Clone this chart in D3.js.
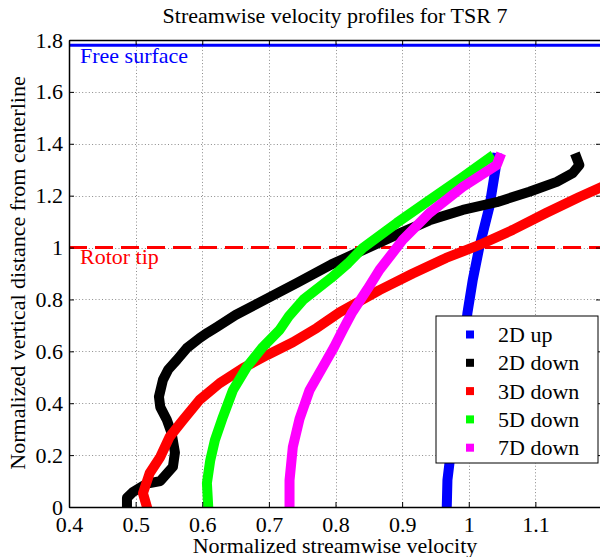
<!DOCTYPE html>
<html>
<head>
<meta charset="utf-8">
<script src="https://cdn.jsdelivr.net/npm/d3@7"></script>
<style>
  body { margin: 0; background: #fff; }
  svg { font-family: "Liberation Serif", "DejaVu Serif", serif; }
</style>
</head>
<body>
<svg id="chart" width="600" height="557"></svg>
<script>
// profile data: [normalized streamwise velocity, normalized vertical distance]
var up2D = [[0.967,0],[0.968,0.104],[0.974,0.232],[0.985,0.45],[0.998,0.748],[1.006,0.875],
  [1.016,1.003],[1.031,1.157],[1.040,1.30],[1.042,1.345]];
var down2D = [[0.487,0],[0.487,0.035],[0.496,0.058],[0.517,0.09],[0.537,0.10],[0.556,0.155],
  [0.559,0.21],[0.554,0.285],[0.547,0.335],[0.537,0.385],[0.535,0.425],[0.541,0.49],
  [0.549,0.53],[0.562,0.567],[0.577,0.613],[0.596,0.651],[0.608,0.672],[0.622,0.694],
  [0.650,0.74],[0.697,0.803],[0.743,0.865],[0.794,0.935],[0.841,0.99],[0.892,1.05],
  [0.941,1.105],[0.991,1.145],[1.042,1.175],[1.091,1.215],[1.132,1.253],[1.156,1.287],
  [1.166,1.318],[1.162,1.345]];
var down3D = [[0.517,0],[0.511,0.053],[0.521,0.13],[0.537,0.193],[0.551,0.27],[0.571,0.335],
  [0.596,0.413],[0.626,0.477],[0.661,0.535],[0.697,0.585],[0.736,0.635],[0.772,0.69],
  [0.806,0.75],[0.866,0.836],[0.916,0.9],[0.966,0.96],[1.016,1.01],[1.066,1.068],
  [1.116,1.133],[1.166,1.195],[1.205,1.24]];
var down5D = [[0.609,0],[0.607,0.092],[0.612,0.18],[0.619,0.258],[0.631,0.347],[0.646,0.45],
  [0.667,0.54],[0.691,0.617],[0.716,0.682],[0.730,0.735],[0.752,0.80],[0.793,0.882],
  [0.819,0.94],[0.841,0.998],[0.892,1.095],[0.941,1.183],[0.991,1.272],[1.031,1.345]];
var down7D = [[0.731,0],[0.731,0.103],[0.736,0.232],[0.746,0.34],[0.761,0.45],[0.787,0.567],
  [0.798,0.617],[0.811,0.682],[0.825,0.75],[0.848,0.84],[0.866,0.914],[0.901,1.03],
  [0.941,1.133],[0.991,1.234],[1.042,1.318],[1.046,1.345]];

var seriesNames = ["2D up", "2D down", "3D down", "5D down", "7D down"];
var seriesColors = ["#0000ff", "#000000", "#ff0000", "#00ff00", "#ff00ff"];
var seriesData = [up2D, down2D, down3D, down5D, down7D];

var xTicks = [0.4, 0.5, 0.6, 0.7, 0.8, 0.9, 1.0, 1.1];
var yTicks = [0, 0.2, 0.4, 0.6, 0.8, 1.0, 1.2, 1.4, 1.6, 1.8];
var freeSurface = 1.78, rotorTip = 1.0;

var svg = d3.select("#chart");
var pLeft = 69, pRight = 602, pTop = 40, pBottom = 507;
var fs = 22;

var x = d3.scaleLinear().domain([0.4, 1.2]).range([pLeft, pRight]),
    y = d3.scaleLinear().domain([0, 1.8]).range([pBottom, pTop]);

var fmt = function(d) { return d3.format("~g")(+d.toFixed(1)); };

svg.append("defs").append("clipPath").attr("id", "clip")
  .append("rect").attr("x", pLeft).attr("y", pTop).attr("width", pRight - pLeft).attr("height", pBottom - pTop);

// grid
var grid = svg.append("g").attr("stroke", "#8c8c8c").attr("stroke-width", 1).attr("stroke-dasharray", "1,2.3");
grid.selectAll(".gx").data(xTicks.slice(1)).enter().append("line")
  .attr("x1", function(d) { return Math.round(x(d)) + 0.5; })
  .attr("x2", function(d) { return Math.round(x(d)) + 0.5; })
  .attr("y1", pTop).attr("y2", pBottom);
grid.selectAll(".gy").data(yTicks.slice(1, -1)).enter().append("line")
  .attr("y1", function(d) { return Math.round(y(d)) + 0.5; })
  .attr("y2", function(d) { return Math.round(y(d)) + 0.5; })
  .attr("x1", pLeft).attr("x2", pRight);

// reference lines
svg.append("line").attr("x1", pLeft).attr("x2", pRight)
  .attr("y1", y(freeSurface)).attr("y2", y(freeSurface))
  .attr("stroke", "#0000ff").attr("stroke-width", 3);
svg.append("line").attr("x1", pLeft).attr("x2", pRight)
  .attr("y1", y(rotorTip)).attr("y2", y(rotorTip))
  .attr("stroke", "#ff0000").attr("stroke-width", 3).attr("stroke-dasharray", "18,8");
svg.append("text").attr("x", 80).attr("y", 63).attr("fill", "#0000ff")
  .attr("font-size", fs).text("Free surface");
svg.append("text").attr("x", 80).attr("y", 264).attr("fill", "#ff0000")
  .attr("font-size", fs).text("Rotor tip");

// profiles
var line = d3.line().x(function(d) { return x(d[0]); }).y(function(d) { return y(d[1]); });
svg.append("g").attr("clip-path", "url(#clip)")
  .selectAll("path").data(seriesData).enter().append("path")
  .attr("d", line)
  .attr("fill", "none")
  .attr("stroke", function(d, i) { return seriesColors[i]; })
  .attr("stroke-width", 10)
  .attr("stroke-linejoin", "round")
  .attr("stroke-linecap", "square");

// axes (box with inward ticks)
var axes = svg.append("g");
axes.append("g").attr("transform", "translate(0," + pBottom + ")")
  .call(d3.axisBottom(x).tickValues(xTicks).tickSizeInner(-5).tickSizeOuter(0).tickPadding(9).tickFormat(fmt));
axes.append("g").attr("transform", "translate(0," + pTop + ")")
  .call(d3.axisTop(x).tickValues(xTicks).tickSizeInner(-5).tickSizeOuter(0).tickFormat(""));
axes.append("g").attr("transform", "translate(" + pLeft + ",0)")
  .call(d3.axisLeft(y).tickValues(yTicks).tickSizeInner(-5).tickSizeOuter(0).tickPadding(6).tickFormat(fmt));
axes.append("g").attr("transform", "translate(" + (pRight - 1) + ",0)")
  .call(d3.axisRight(y).tickValues(yTicks).tickSizeInner(-5).tickSizeOuter(0).tickFormat(""));
axes.selectAll(".domain").attr("stroke", "#000").attr("stroke-width", 1.5);
axes.selectAll(".tick line").attr("stroke", "#000");
axes.selectAll("text").attr("fill", "#000").attr("font-size", fs).attr("font-family", "Liberation Serif");

// titles
svg.append("text").attr("x", 335).attr("y", 23).attr("text-anchor", "middle")
  .attr("font-size", fs).text("Streamwise velocity profiles for TSR 7");
svg.append("text").attr("x", 335).attr("y", 553).attr("text-anchor", "middle")
  .attr("font-size", fs).text("Normalized streamwise velocity");
svg.append("text").attr("transform", "translate(25,273) rotate(-90)").attr("text-anchor", "middle")
  .attr("font-size", fs).text("Normalized vertical distance from centerline");

// legend
var legend = svg.append("g").attr("transform", "translate(436,316)");
legend.append("rect").attr("width", 162).attr("height", 147)
  .attr("fill", "#fff").attr("stroke", "#000").attr("stroke-width", 1);
var items = legend.selectAll(".item").data(seriesNames).enter().append("g")
  .attr("transform", function(d, i) { return "translate(0," + (18.5 + i * 28.3) + ")"; });
items.append("rect").attr("x", 30).attr("y", -4).attr("width", 8).attr("height", 8)
  .attr("fill", function(d, i) { return seriesColors[i]; });
items.append("text").attr("x", 62).attr("y", 7.5).attr("font-size", fs).text(function(d) { return d; });
</script>
</body>
</html>
